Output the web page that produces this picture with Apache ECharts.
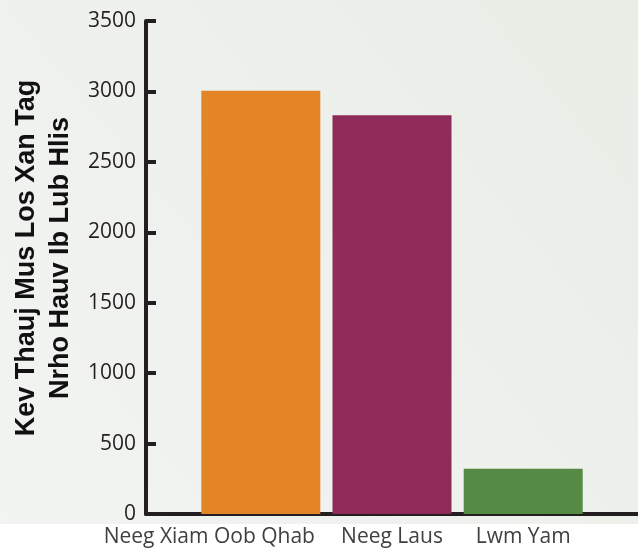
<!DOCTYPE html>
<html>
<head>
<meta charset="utf-8">
<script src="https://cdn.jsdelivr.net/npm/echarts@6/dist/echarts.min.js"></script>
<style>html,body{margin:0;padding:0;background:#fff}#c{width:638px;height:548px}</style>
</head>
<body>
<div id="c"></div>
<script>
const categories = ['Neeg Xiam Oob Qhab', 'Neeg Laus', 'Lwm Yam'];
const values = [3005, 2830, 322];
const barColors = ['#E38527', '#8E2B59', '#558A45'];
const yTicks = [0, 500, 1000, 1500, 2000, 2500, 3000, 3500];
const yTitleLines = ['Kev Thauj Mus Los Xan Tag', 'Nrho Hauv Ib Lub Hlis'];

const chart = echarts.init(document.getElementById('c'), null, {renderer: 'canvas'});
const axisColor = '#231F20';
const labelFont = '"Open Sans", sans-serif';
const labelSize = 21;
const firstLabelShift = 103;

chart.setOption({
  animation: false,
  backgroundColor: '#ffffff',
  graphic: [
    {
      type: 'rect', z: -10, silent: true,
      shape: {x: 0, y: 0, width: 638, height: 524},
      style: {
        fill: new echarts.graphic.LinearGradient(0, 1, 1, 0, [
          {offset: 0, color: '#F2F4F2'},
          {offset: 1, color: '#E9EDE6'}
        ])
      }
    },
    {
      type: 'text', x: 44, y: 258, rotation: Math.PI / 2,
      style: {
        text: yTitleLines.join('\n'),
        font: 'bold 27px "Liberation Sans", Arial, sans-serif',
        fill: '#111111',
        textAlign: 'center', textVerticalAlign: 'middle',
        lineHeight: 34
      }
    }
  ],
  grid: {left: 146, top: 21, bottom: 32.5, right: -3, containLabel: false},
  xAxis: {
    type: 'value',
    min: -0.875, max: 2.875,
    splitLine: {show: false},
    axisTick: {show: false},
    axisLine: {show: true, onZero: false, lineStyle: {color: axisColor, width: 4}},
    axisLabel: {
      customValues: categories.map((c, i) => i),
      margin: 13,
      color: '#404040',
      fontSize: labelSize,
      fontFamily: labelFont,
      formatter: function (v) {
        const i = Math.round(v);
        return i === 0 ? '{s|' + categories[i] + '}' : categories[i];
      },
      rich: {
        s: {
          color: '#404040', fontSize: labelSize, fontFamily: labelFont,
          padding: [0, firstLabelShift, 0, 0]
        }
      }
    }
  },
  yAxis: {
    type: 'value',
    min: yTicks[0], max: yTicks[yTicks.length - 1], interval: yTicks[1] - yTicks[0],
    splitLine: {show: false},
    axisLine: {show: true, onZero: false, lineStyle: {color: axisColor, width: 4}},
    axisTick: {show: true, inside: true, length: 10, lineStyle: {color: axisColor, width: 4}},
    axisLabel: {
      margin: 10, color: '#231F20', fontSize: labelSize,
      fontFamily: labelFont,
      formatter: function (v) { return String(v); }
    }
  },
  series: [{
    type: 'bar',
    barWidth: 119,
    data: values.map((v, i) => ({value: [i, v], itemStyle: {color: barColors[i]}})),
    z: 1
  }]
});
</script>
</body>
</html>
